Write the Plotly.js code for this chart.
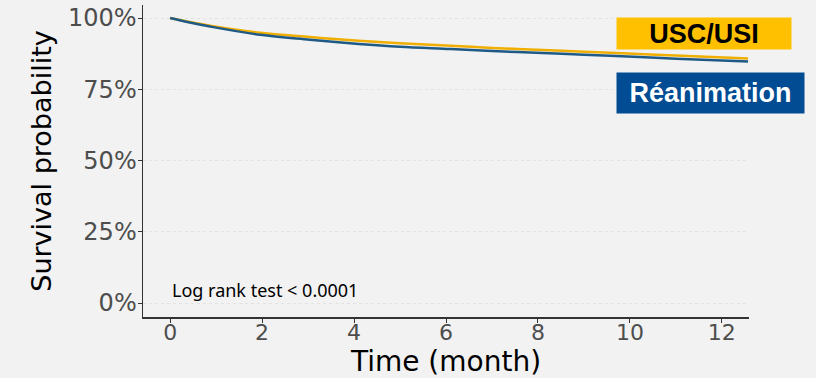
<!DOCTYPE html>
<html>
<head>
<meta charset="utf-8">
<script src="https://cdn.plot.ly/plotly-3.0.1.min.js"></script>
<style>html,body{margin:0;padding:0;background:#F2F2F2;}</style>
</head>
<body>
<div id="chart" style="width:816px;height:378px;"></div>
<script>
const months = [0, 0.4, 0.87, 1.96, 3.04, 4.1, 5, 6.1, 7, 8.1, 9, 10.2, 11, 12.57];
const uscUsi = [100, 98.7, 97.3, 94.8, 93.3, 92.0, 91.1, 90.3, 89.5, 88.8, 88.2, 87.4, 86.8, 85.8];
const reanimation = [100, 98.5, 97.0, 94.1, 92.4, 90.9, 89.9, 89.1, 88.4, 87.7, 87.1, 86.3, 85.7, 84.7];
const yTickVals = [0, 25, 50, 75, 100];
const yTickText = ['0%', '25%', '50%', '75%', '100%'];
const xTickVals = [0, 2, 4, 6, 8, 10, 12];
const seriesNames = ['USC/USI', 'Réanimation'];

const traces = [
  {x: months, y: uscUsi, name: seriesNames[0], mode: 'lines', line: {color: '#EFAE00', width: 2.5, shape: 'spline', smoothing: 1}},
  {x: months, y: reanimation, name: seriesNames[1], mode: 'lines', line: {color: '#1F5A86', width: 2.5, shape: 'spline', smoothing: 1}}
];

const layout = {
  width: 816, height: 378,
  paper_bgcolor: '#F2F2F2', plot_bgcolor: '#F2F2F2',
  margin: {l: 143, r: 67, t: 5, b: 61},
  showlegend: false,
  xaxis: {
    range: [-0.59, 12.59], tickvals: xTickVals, ticks: 'outside', ticklen: 4, tickcolor: '#333',
    showline: true, linecolor: '#333', linewidth: 1.5, showgrid: false, zeroline: false,
    tickfont: {family: 'DejaVu Sans', size: 22, color: '#4D4D4D'}, ticklabelstandoff: -9,
    title: {text: 'Time (month)', font: {family: 'DejaVu Sans', size: 28, color: '#000'}, standoff: 6}
  },
  yaxis: {
    range: [-4.91, 104.56], tickvals: yTickVals, ticktext: yTickText, ticks: 'outside', ticklen: 4, tickcolor: '#333',
    showline: true, linecolor: '#333', linewidth: 1.5, showgrid: true, gridcolor: '#E2E2E2', griddash: 'dot', gridwidth: 1,
    zeroline: false, tickfont: {family: 'DejaVu Sans', size: 24, color: '#4D4D4D'}, ticklabelstandoff: -4,
    title: {text: 'Survival probability', font: {family: 'DejaVu Sans', size: 27, color: '#000'}, standoff: 8}
  },
  annotations: [
    {text: '<b>' + seriesNames[0] + '</b>', xref: 'paper', yref: 'paper', x: 0.7805, y: 0.909, xanchor: 'left', yanchor: 'middle',
     showarrow: false, bgcolor: '#FFC000', width: 174, height: 31, borderpad: 0, align: 'center',
     font: {family: 'Liberation Sans', size: 27, color: '#000'}},
    {text: '<b>' + seriesNames[1] + '</b>', xref: 'paper', yref: 'paper', x: 0.7805, y: 0.719, xanchor: 'left', yanchor: 'middle',
     showarrow: false, bgcolor: '#024C94', width: 187, height: 40, borderpad: 0, align: 'center',
     font: {family: 'Liberation Sans', size: 27, color: '#FFFFFF'}},
    {text: 'Log rank test < 0.0001', xref: 'x', yref: 'y', x: 0, y: 4.4, xanchor: 'left', yanchor: 'middle',
     showarrow: false, font: {family: 'Noto Sans', size: 18, color: '#000'}}
  ]
};
Plotly.newPlot('chart', traces, layout, {displayModeBar: false, staticPlot: true});
</script>
</body>
</html>
